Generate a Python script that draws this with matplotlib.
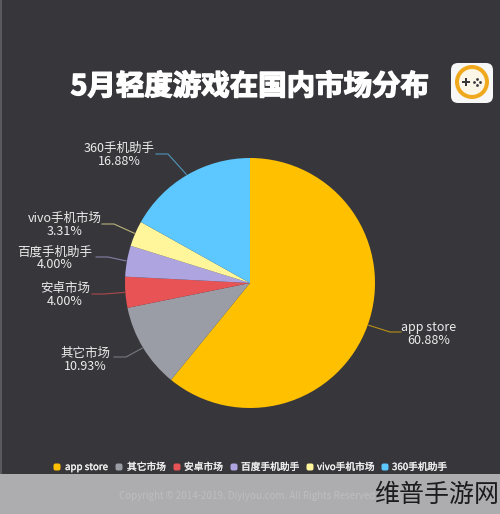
import numpy as np
import matplotlib
matplotlib.use('Agg')
import matplotlib.pyplot as plt
import matplotlib.patheffects as pe
from matplotlib.patches import Circle, FancyBboxPatch, Rectangle

plt.rcParams['font.family'] = ['Noto Sans CJK SC', 'DejaVu Sans']

categories = ['app store', '其它市场', '安卓市场', '百度手机助手', 'vivo手机市场', '360手机助手']
shares = [60.88, 10.93, 4.00, 4.00, 3.31, 16.88]
colors = ['#ffc000', '#9a9da5', '#e85355', '#ada4e0', '#fff59a', '#5cc8ff']

W, H = 500, 514
BG = '#37373b'
# label centre (x, y) and elbow (x, y) in image pixels
label_xy = [(429, 334), (85, 360), (65, 295), (55, 258), (65, 225), (119, 155)]
elbow_xy = [(390, 332), (126, 357), (104, 294), (108, 257), (114, 224), (168, 154)]


def py(y):
    return H - y


fig = plt.figure(figsize=(5, 5.14), dpi=100, facecolor=BG)
ax = fig.add_axes([0, 0, 1, 1])
ax.set_xlim(0, W)
ax.set_ylim(0, H)
ax.axis('off')

# footer band and left edge
ax.add_patch(Rectangle((0, 0), W, H - 474, color='#adadaf', lw=0))
ax.add_patch(Rectangle((0, H - 474), 1.5, 474, color='#5a5a5e', lw=0))

cx, cy, r = 250, 283, 125
wedges, _ = ax.pie(shares, colors=colors, startangle=90, counterclock=False,
                   center=(cx, py(cy)), radius=r, frame=False,
                   wedgeprops={'linewidth': 0})
ax.set_xlim(0, W)
ax.set_ylim(0, H)
ax.set_aspect('equal')

for i, w in enumerate(wedges):
    a = np.deg2rad((w.theta1 + w.theta2) / 2)
    ex, ey = elbow_xy[i]
    x0, y0 = cx + (r + 1) * np.cos(a), py(cy) + (r + 1) * np.sin(a)
    end = ex + 11 if ex > cx else ex - 12
    ax.plot([x0, ex, end], [y0, py(ey), py(ey)], color=colors[i], lw=0.8, alpha=0.65)
    lx, ly = label_xy[i]
    ax.text(lx, py(ly), f'{categories[i]}\n{shares[i]:.2f}%', color='#ececec', fontsize=9,
            ha='center', va='center', linespacing=0.95)

ax.text(250, py(87), '5月轻度游戏在国内市场分布', color='white', fontsize=20.5, fontweight='bold',
        ha='center', va='center',
        path_effects=[pe.withStroke(linewidth=1.0, foreground='white')])

# logo
ax.add_patch(FancyBboxPatch((451, py(103)), 42, 40, boxstyle='round,pad=0,rounding_size=7',
                            fc='#f7f7f7', ec='none'))
ax.add_patch(Circle((472, py(82)), 17, fc='#f0a81c', ec='none'))
ax.add_patch(Circle((472, py(82)), 13, fc='#fbf6e8', ec='none'))
ax.plot([466], [py(82)], marker='P', ms=6, color=BG, mew=0)
ax.plot([474, 480, 477, 477], [py(82), py(82), py(79), py(85)], ls='none', marker='o', ms=2, color=BG, mew=0)

# legend
leg_x = [57, 119, 177, 234, 310, 385]
text_x = [65, 127, 184, 241, 317, 392]
for i, c in enumerate(categories):
    ax.add_patch(FancyBboxPatch((leg_x[i] - 3.5, py(470.5)), 7, 7, boxstyle='round,pad=0,rounding_size=2',
                                fc=colors[i], ec='none'))
    ax.text(text_x[i], py(467), c, color='#f0f0f0', fontsize=7, ha='left', va='center',
            path_effects=[pe.withStroke(linewidth=0.2, foreground='#f0f0f0')])

ax.text(119, py(496), 'Copyright © 2014-2019. Diyiyou.com. All Rights Reserved', color='#bebec0',
        fontsize=7, ha='left', va='center')
ax.text(437, py(495), '维普手游网', color='#1c1c1c', fontsize=18, fontweight='light', ha='center', va='center')

fig.savefig('out.png', dpi=100, facecolor=BG)
